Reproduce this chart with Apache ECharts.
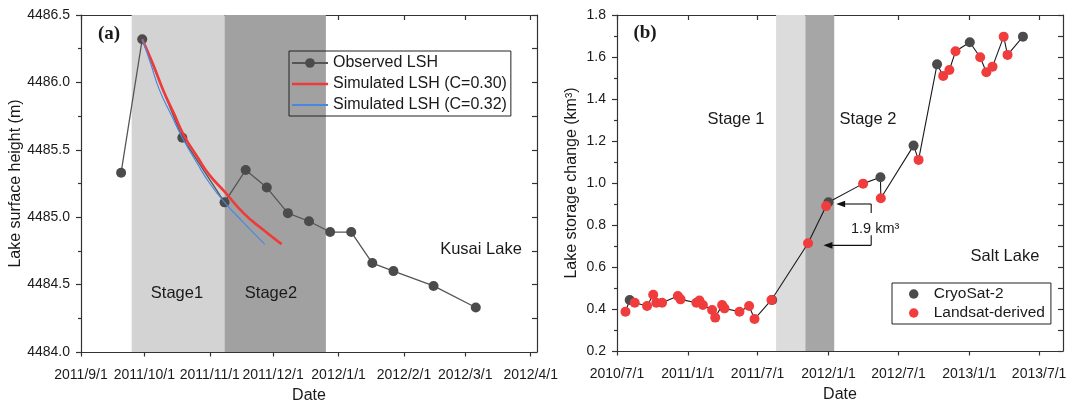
<!DOCTYPE html>
<html><head><meta charset="utf-8">
<script src="https://cdn.jsdelivr.net/npm/echarts@6/dist/echarts.min.js"></script>
<style>html,body{margin:0;padding:0;background:#fff}#c{width:1067px;height:404px}</style>
</head><body><div id="c"></div>
<script>
// ---------- Panel (a): Kusai Lake ----------
const aTickLabels = ['2011/9/1','2011/10/1','2011/11/1','2011/12/1','2012/1/1','2012/2/1','2012/3/1','2012/4/1'];
const aRange = ['2011/9/1','2012/4/4'];
const aObsDates = ['2011/9/20','2011/9/30','2011/10/19','2011/11/8','2011/11/18','2011/11/28','2011/12/8','2011/12/18','2011/12/28','2012/1/7','2012/1/17','2012/1/27','2012/2/15','2012/3/6'];
const aObsValues = [4485.33,4486.32,4485.59,4485.11,4485.35,4485.22,4485.03,4484.97,4484.89,4484.89,4484.66,4484.60,4484.49,4484.33];
const aSim30Dates = ['2011/9/30','2011/10/5','2011/10/10','2011/10/15','2011/10/20','2011/10/26','2011/11/1','2011/11/8','2011/11/17','2011/11/26','2011/12/5'];
const aSim30Values = [4486.32,4486.14,4485.94,4485.77,4485.60,4485.45,4485.31,4485.19,4485.03,4484.91,4484.80];
const aSim32Dates = ['2011/9/30','2011/10/4','2011/10/8','2011/10/14','2011/10/19','2011/10/26','2011/11/1','2011/11/8','2011/11/17','2011/11/27'];
const aSim32Values = [4486.32,4486.14,4485.95,4485.75,4485.59,4485.40,4485.25,4485.11,4484.96,4484.80];
const aStage1 = ['2011/9/25','2011/11/8'];
const aStage2 = ['2011/11/8','2011/12/26'];

// ---------- Panel (b): Salt Lake ----------
const bTickLabels = ['2010/7/1','2011/1/1','2011/7/1','2012/1/1','2012/7/1','2013/1/1','2013/7/1'];
const bRange = ['2010/7/1','2013/9/1'];
const bCryoDates = ['2010/8/3','2011/8/8','2012/1/1','2012/5/15','2012/8/9','2012/10/9','2013/1/2','2013/5/20'];
const bCryoValues = [0.443,0.443,0.908,1.027,1.178,1.565,1.670,1.697];
const bLandDates = ['2010/7/23','2010/8/16','2010/9/17','2010/10/3','2010/10/11','2010/10/26','2010/12/6','2010/12/13','2011/1/23','2011/1/31','2011/2/9','2011/3/5','2011/3/13','2011/3/31','2011/4/6','2011/5/15','2011/6/9','2011/6/23','2011/8/6','2011/11/9','2011/12/26','2012/3/31','2012/5/16','2012/8/22','2012/10/25','2012/11/10','2012/11/26','2013/1/29','2013/2/14','2013/3/2','2013/3/31','2013/4/10'];
const bLandValues = [0.387,0.430,0.414,0.468,0.430,0.430,0.462,0.446,0.430,0.440,0.419,0.395,0.359,0.419,0.403,0.387,0.414,0.352,0.443,0.713,0.890,0.997,0.927,1.110,1.510,1.538,1.627,1.599,1.527,1.554,1.697,1.610];
const bStage1 = ['2011/8/18','2011/11/2'];
const bStage2 = ['2011/11/2','2012/1/16'];
// annotation: storage difference between two Landsat levels
const bArrowLevels = [0.900, 0.703];
const bArrowTips = ['2012/1/21','2011/12/19'];
const bBracketDate = '2012/4/21';
const bAnnotText = '1.9 km\u00b3';

function ts(s){const p=s.split('/').map(Number);return Date.UTC(p[0],p[1]-1,p[2]);}
function pairs(d,v){return d.map((x,i)=>[ts(x),v[i]]);}
const aTicks = aTickLabels.map(ts), bTicks = bTickLabels.map(ts);
const labMap = {}; aTickLabels.concat(bTickLabels).forEach(s=>labMap[ts(s)]=s);

const FONT = "'Liberation Sans', Arial, sans-serif";
const AX = '#333';
const TXT = '#1a1a1a';

function xAxisPair(grid, range, ticks){
  return [{
    type:'value', gridIndex:grid, position:'bottom', min:ts(range[0]), max:ts(range[1]),
    axisLine:{show:true,onZero:false,lineStyle:{color:AX,width:1.2}},
    axisTick:{show:true,customValues:ticks,length:4.5,lineStyle:{color:AX,width:1.2}},
    axisLabel:{show:true,customValues:ticks,formatter:v=>labMap[v]||'',fontSize:14,color:TXT,margin:16,fontFamily:FONT},
    splitLine:{show:false},
    name:'Date',nameLocation:'middle',nameGap:36,nameTextStyle:{fontSize:16,color:TXT,fontFamily:FONT}
  },{
    type:'value', gridIndex:grid, position:'top', min:ts(range[0]), max:ts(range[1]),
    axisLine:{show:true,onZero:false,lineStyle:{color:AX,width:1.2}},
    axisTick:{show:true,inside:true,customValues:ticks,length:5,lineStyle:{color:AX,width:1.2}},
    axisLabel:{show:false},splitLine:{show:false}
  }];
}
function yAxisPair(grid, min, max, interval, name, gap){
  return [{
    type:'value', gridIndex:grid, position:'left', min:min, max:max, interval:interval,
    axisLine:{show:true,onZero:false,lineStyle:{color:AX,width:1.2}},
    axisTick:{show:true,length:5,lineStyle:{color:AX,width:1.2}},
    minorTick:{show:true,splitNumber:2,length:3,lineStyle:{color:AX,width:1.2}},
    axisLabel:{fontSize:14,color:TXT,margin:11,formatter:v=>v.toFixed(1),fontFamily:FONT},
    splitLine:{show:false},minorSplitLine:{show:false},
    name:name,nameLocation:'middle',nameGap:gap,nameTextStyle:{fontSize:16,color:TXT,fontFamily:FONT}
  },{
    type:'value', gridIndex:grid, position:'right', min:min, max:max, interval:interval,
    axisLine:{show:true,onZero:false,lineStyle:{color:AX,width:1.2}},
    axisTick:{show:true,inside:true,length:5,lineStyle:{color:AX,width:1.2}},
    minorTick:{show:true,splitNumber:2,length:5,lineStyle:{color:AX,width:1.2}},
    axisLabel:{show:false},splitLine:{show:false}
  }];
}

const bAll = pairs(bCryoDates,bCryoValues).map(p=>[p[0],p[1],0]).concat(pairs(bLandDates,bLandValues).map(p=>[p[0],p[1],1]));
bAll.sort((a,b)=>a[0]-b[0]);

const chart = echarts.init(document.getElementById('c'), null, {renderer:'canvas'});
const option = {
  animation:false,
  textStyle:{fontFamily:FONT},
  grid:[
    {left:81,top:15,width:456,height:337,containLabel:false,outerBoundsMode:'none'},
    {left:617,top:15,width:446,height:336,containLabel:false,outerBoundsMode:'none'}
  ],
  xAxis: xAxisPair(0,aRange,aTicks).concat(xAxisPair(1,bRange,bTicks)),
  yAxis: yAxisPair(0,4484,4486.5,0.5,'Lake surface height (m)',53).concat(yAxisPair(1,0.2,1.8,0.2,'Lake storage change (km\u00b3)',37)),
  legend:[{
    data:['Observed LSH',
      {name:'Simulated LSH (C=0.30)',icon:'path://M0,0L36,0L36,2.6L0,2.6Z'},
      {name:'Simulated LSH (C=0.32)',icon:'path://M0,0L36,0L36,2.2L0,2.2Z'}],
    orient:'vertical',left:289,top:51,itemWidth:36,itemHeight:12,itemGap:5,
    padding:[4,4,3,2],borderColor:'#222',borderWidth:1,borderRadius:0,
    textStyle:{fontSize:16,color:TXT,fontFamily:FONT}
  },{
    data:[{name:'CryoSat-2',icon:'circle'},{name:'Landsat-derived',icon:'circle'}],
    orient:'vertical',left:892,top:283,itemWidth:30,itemHeight:9.5,itemGap:3,
    padding:[3,6,3,17],borderColor:'#222',borderWidth:1,borderRadius:0,
    textStyle:{fontSize:15.5,color:TXT,fontFamily:FONT}
  }],
  series:[
    {type:'line',xAxisIndex:0,yAxisIndex:0,data:[],z:1,silent:true,
     markArea:{silent:true,data:[
       [{xAxis:ts(aStage1[0]),itemStyle:{color:'#d3d3d3'}},{xAxis:ts(aStage1[1])}],
       [{xAxis:ts(aStage2[0]),itemStyle:{color:'#a1a1a1'}},{xAxis:ts(aStage2[1])}]]}},
    {name:'Observed LSH',type:'line',xAxisIndex:0,yAxisIndex:0,z:3,
     data:pairs(aObsDates,aObsValues),symbol:'circle',symbolSize:10,
     lineStyle:{color:'#555',width:1.3},itemStyle:{color:'#4b4b4b'}},
    {name:'Simulated LSH (C=0.30)',type:'line',xAxisIndex:0,yAxisIndex:0,z:4,
     data:pairs(aSim30Dates,aSim30Values),symbol:'none',smooth:0.5,
     lineStyle:{color:'#f03a3a',width:2.6},itemStyle:{color:'#f03a3a'}},
    {name:'Simulated LSH (C=0.32)',type:'line',xAxisIndex:0,yAxisIndex:0,z:4,
     data:pairs(aSim32Dates,aSim32Values),symbol:'none',smooth:0.5,
     lineStyle:{color:'#4a88e0',width:1.2},itemStyle:{color:'#4a88e0'}},

    {type:'line',xAxisIndex:2,yAxisIndex:2,data:bAll.map(p=>[p[0],p[1]]),z:2,
     symbol:'none',lineStyle:{color:'#1a1a1a',width:1.1},silent:true,
     markArea:{silent:true,data:[
       [{xAxis:ts(bStage1[0]),itemStyle:{color:'#dcdcdc'}},{xAxis:ts(bStage1[1])}],
       [{xAxis:ts(bStage2[0]),itemStyle:{color:'#a6a6a6'}},{xAxis:ts(bStage2[1])}]]}},
    {name:'CryoSat-2',type:'scatter',xAxisIndex:2,yAxisIndex:2,z:3,
     data:pairs(bCryoDates,bCryoValues),symbol:'circle',symbolSize:10,itemStyle:{color:'#4b4b4b',opacity:1}},
    {name:'Landsat-derived',type:'scatter',xAxisIndex:2,yAxisIndex:2,z:4,
     data:pairs(bLandDates,bLandValues),symbol:'circle',symbolSize:10,itemStyle:{color:'#f03c3c',opacity:1}}
  ]
};
chart.setOption(option);

// annotations
function px(ax,d,v){return chart.convertToPixel({xAxisIndex:ax,yAxisIndex:ax},[ts(d),v]);}
const g = [];
function txt(x,y,t,size,extra){g.push({type:'text',z:50,style:Object.assign({text:t,x:x,y:y,fill:TXT,fontSize:size,fontFamily:FONT,align:'center',verticalAlign:'middle'},extra||{})});}
txt(177,293,'Stage1',16.5);
txt(271,293,'Stage2',16.5);
txt(481,249,'Kusai Lake',16.5);
txt(109,34,'(a)',19,{fontFamily:"'Liberation Serif','Times New Roman',serif",fontWeight:'bold'});
txt(736,119,'Stage 1',16.5);
txt(868,119,'Stage 2',16.5);
txt(1005,256,'Salt Lake',16.5);
txt(645,33,'(b)',19,{fontFamily:"'Liberation Serif','Times New Roman',serif",fontWeight:'bold'});

const ln = {stroke:'#111',lineWidth:1.1};
const up = px(2,bBracketDate,bArrowLevels[0]);
const dn = px(2,bBracketDate,bArrowLevels[1]);
const upTip = px(2,bArrowTips[0],bArrowLevels[0]);
const dnTip = px(2,bArrowTips[1],bArrowLevels[1]);
[[upTip,up],[dnTip,dn]].forEach(([tip,end])=>{
  g.push({type:'line',z:50,shape:{x1:tip[0]+8,y1:tip[1],x2:end[0],y2:end[1]},style:ln});
  g.push({type:'polygon',z:50,shape:{points:[[tip[0],tip[1]],[tip[0]+9,tip[1]-3.3],[tip[0]+9,tip[1]+3.3]]},style:{fill:'#111'}});
});
g.push({type:'line',z:50,shape:{x1:up[0],y1:up[1],x2:up[0],y2:up[1]+9},style:ln});
g.push({type:'line',z:50,shape:{x1:dn[0],y1:dn[1],x2:dn[0],y2:dn[1]-10},style:ln});
txt((up[0]+4),(up[1]+dn[1])/2+4,bAnnotText,14.5);
chart.setOption({graphic:g});
</script></body></html>
